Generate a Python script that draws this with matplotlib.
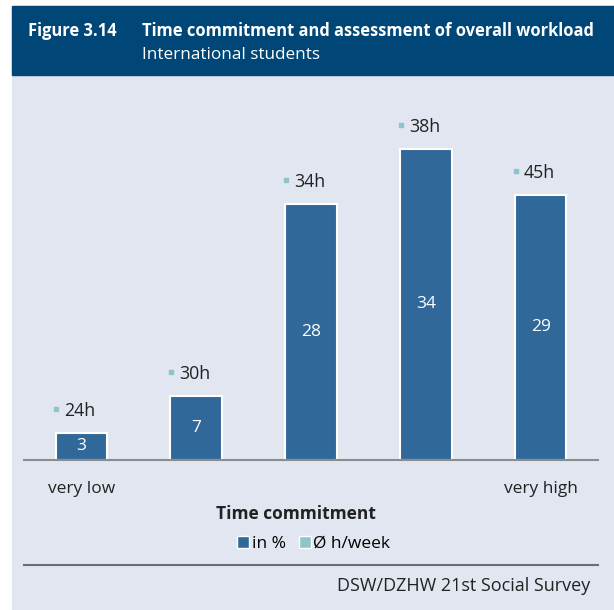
import matplotlib.pyplot as plt
from matplotlib.patches import Rectangle
from matplotlib.lines import Line2D
from matplotlib.transforms import ScaledTranslation

plt.rcParams['font.family'] = ['Open Sans', 'DejaVu Sans']

# survey values
categories = ["very low", "", "", "", "very high"]
share_pct = [3, 7, 28, 34, 29]
hours_week = [24, 30, 34, 38, 45]

BAR = '#31689a'
TEAL = '#8fc4ca'
PANEL = '#e1e6f0'
HEAD = '#004677'
GREY = '#6d6e71'
INK = '#222222'

W, H = 614, 610
fig = plt.figure(figsize=(W / 100, H / 100), dpi=100)
fig.patch.set_facecolor('white')

def px(x, y):
    return x / W, 1 - y / H

# background panel and header band
fig.patches.append(Rectangle(px(12, 610), (W - 12) / W, 604 / H,
                             transform=fig.transFigure, color=PANEL, zorder=-2))
fig.patches.append(Rectangle(px(12, 75), (W - 12) / W, 69 / H,
                             transform=fig.transFigure, color=HEAD, zorder=-1))

fig.text(*px(28, 31), "Figure 3.14", color='white', fontsize=11.9,
         fontweight='bold', va='center')
fig.text(*px(142, 31), "Time commitment and assessment of overall workload",
         color='white', fontsize=11.9, fontweight='bold', va='center')
fig.text(*px(142, 55), "International students", color='white',
         fontsize=12.3, va='center')

# plotting area: baseline at y=460px
left, bottom = px(24, 460)
ax = fig.add_axes([left, bottom, (598 - 24) / W, 360 / H])
ax.set_facecolor('none')
x = list(range(len(share_pct)))
ax.bar(x, share_pct, width=0.45, color=BAR, edgecolor='white', linewidth=1.5,
       zorder=2)
ax.set_xlim(-0.5, 4.5)
ax.set_ylim(0, 360 / 9.15)
for s in ['top', 'right', 'left']:
    ax.spines[s].set_visible(False)
ax.spines['bottom'].set_color('#8a8c8f')
ax.spines['bottom'].set_linewidth(1.5)
ax.set_yticks([])
ax.set_xticks(x)
ax.set_xticklabels(categories, fontsize=12.5, color=INK)
ax.tick_params(axis='x', length=0, pad=15)

# small teal square sits left of each hours label
marker_shift = ScaledTranslation(-25 / 100, 24 / 100, fig.dpi_scale_trans)
for xi, v, h in zip(x, share_pct, hours_week):
    ax.text(xi, v / 2, str(v), color='white', fontsize=12.5,
            ha='center', va='center', zorder=3)
    ax.annotate(f"{h}h", (xi, v), xytext=(-17, 22), textcoords='offset pixels',
                fontsize=12.8, color=INK, ha='left', va='center')
    ax.plot([xi], [v], marker='s', markersize=3.2, color=TEAL,
            transform=ax.transData + marker_shift, clip_on=False)

fig.text(*px(296, 514), "Time commitment", fontsize=12.5, fontweight='bold',
         ha='center', va='center', color=INK)

# legend
handles = [Line2D([], [], marker='s', linestyle='none', markersize=8,
                  markerfacecolor=BAR, markeredgecolor='white', markeredgewidth=1),
           Line2D([], [], marker='s', linestyle='none', markersize=8,
                  markerfacecolor=TEAL, markeredgecolor='white', markeredgewidth=1)]
fig.legend(handles, ["in %", "Ø h/week"], loc='center', bbox_to_anchor=px(314, 544),
           ncol=2, frameon=False, fontsize=12.5, handlelength=0.6,
           handletextpad=0.2, columnspacing=0.8)

fig.add_artist(Line2D([24 / W, 598 / W], [1 - 565 / H] * 2,
                      transform=fig.transFigure, color=GREY, linewidth=1.5))
fig.text(*px(590, 586), "DSW/DZHW 21st Social Survey", fontsize=13,
         ha='right', va='center', color=INK)

fig.savefig('out.png', dpi=100, facecolor='white')
